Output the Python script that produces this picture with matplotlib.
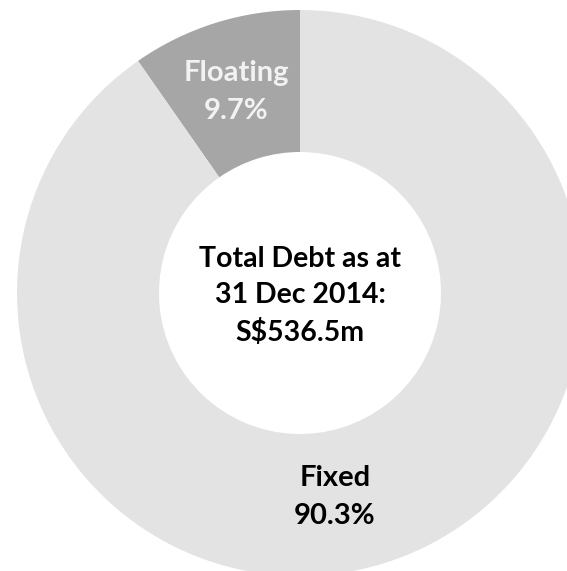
import matplotlib.pyplot as plt

labels = ["Floating", "Fixed"]
shares = [9.7, 90.3]
colors = ["#A6A6A6", "#E3E3E3"]
center_text = "Total Debt as at\n31 Dec 2014:\nS$536.5m"

plt.rcParams['font.family'] = ['Lato', 'DejaVu Sans']

fig = plt.figure(figsize=(5.67, 5.71), dpi=100)
ax = fig.add_axes([0, 0, 1, 1])

# donut, partly cut off by the figure edges
ax.pie(shares, colors=colors, startangle=90, counterclock=True,
       center=(300, 278), radius=283, frame=True,
       wedgeprops=dict(width=142, linewidth=0))
ax.set_xlim(0, 567)
ax.set_ylim(0, 571)
ax.axis("off")

ax.text(236, 571 - 92, f"{labels[0]}\n{shares[0]:.1f}%", ha="center", va="center",
        fontsize=21, fontweight="bold", color="#F2F2F2", linespacing=1.55)
ax.text(335, 571 - 497, f"{labels[1]}\n{shares[1]:.1f}%", ha="center", va="center",
        fontsize=21, fontweight="bold", color="black", linespacing=1.55)
ax.text(300, 571 - 296, center_text, ha="center", va="center",
        fontsize=20.5, fontweight="bold", color="black", linespacing=1.5)

plt.savefig("out.png", dpi=100)
